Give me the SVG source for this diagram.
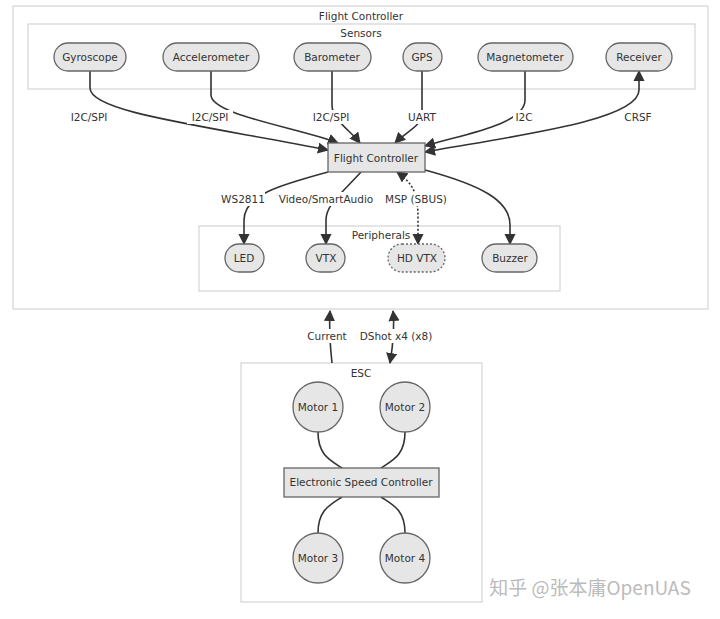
<svg xmlns="http://www.w3.org/2000/svg" width="720" height="619" viewBox="0 0 720 619">
<defs>
<marker id="ah" viewBox="0 0 10 10" refX="9" refY="5" markerWidth="7" markerHeight="7" orient="auto-start-reverse"><path d="M0,0L10,5L0,10z" fill="#333"/></marker>
<style>
text{font-family:"DejaVu Sans","Liberation Sans",sans-serif;font-size:10.5px;fill:#333;text-anchor:middle;dominant-baseline:central}
.cl{fill:#fff;stroke:#ccc;stroke-width:1}
.n{fill:#e6e6e6;stroke:#666;stroke-width:1.3}
.d{stroke-dasharray:2,2}
.e{fill:none;stroke:#333;stroke-width:1.6}
.lb{fill:#fff}
</style>
</defs>
<rect width="720" height="619" fill="#fff"/>
<g id="cluster-fc"><rect class="cl" x="13" y="6" width="695" height="303"/><text x="361" y="16">Flight Controller</text></g>
<g id="cluster-sensors"><rect class="cl" x="28" y="24" width="667" height="65"/><text x="361" y="33">Sensors</text></g>
<g id="cluster-periph"><rect class="cl" x="199" y="226" width="361" height="65"/><text x="381" y="235">Peripherals</text></g>
<g id="cluster-esc"><rect class="cl" x="241" y="363" width="241" height="239"/><text x="361" y="373">ESC</text></g>
<g id="edges">
<path class="e" d="M90,71V88C90,112 200,125 328,150" marker-end="url(#ah)"/>
<path class="e" d="M211,71V95C211,115 300,128 338,143" marker-end="url(#ah)"/>
<path class="e" d="M332,71V105C332,120 350,130 360,143" marker-end="url(#ah)"/>
<path class="e" d="M422,71V115C422,125 405,133 395,143" marker-end="url(#ah)"/>
<path class="e" d="M525,71V100C525,125 460,135 425,146" marker-end="url(#ah)"/>
<path class="e" d="M639,71V90C639,120 520,135 425,152" marker-start="url(#ah)" marker-end="url(#ah)"/>
<path class="e" d="M328,172C280,185 244,195 244,220V244" marker-end="url(#ah)"/>
<path class="e" d="M361,172C340,195 326,205 326,220V244" marker-end="url(#ah)"/>
<path class="e d" d="M397,172C415,185 418,195 418,220V244" marker-start="url(#ah)" marker-end="url(#ah)"/>
<path class="e" d="M425,170C480,185 510,200 510,225V244" marker-end="url(#ah)"/>
<path class="e" d="M332,363C330,345 329,330 330,311" marker-end="url(#ah)"/>
<path class="e" d="M390,363C393,345 395,330 393,311" marker-start="url(#ah)" marker-end="url(#ah)"/>
<path class="e" d="M318,432C318,455 330,460 342,468"/>
<path class="e" d="M405,432C405,455 393,460 381,468"/>
<path class="e" d="M318,533C318,510 330,505 342,497"/>
<path class="e" d="M405,533C405,510 393,505 381,497"/>
<g>
<rect class="lb" x="66" y="110" width="46" height="14"/><text x="89" y="117">I2C/SPI</text>
<rect class="lb" x="187" y="110" width="46" height="14"/><text x="210" y="117">I2C/SPI</text>
<rect class="lb" x="308" y="110" width="46" height="14"/><text x="331" y="117">I2C/SPI</text>
<rect class="lb" x="406" y="110" width="32" height="14"/><text x="422" y="117">UART</text>
<rect class="lb" x="513" y="110" width="22" height="14"/><text x="524" y="117">I2C</text>
<rect class="lb" x="624" y="110" width="30" height="14"/><text x="638" y="117">CRSF</text>
<rect class="lb" x="221" y="192" width="44" height="14"/><text x="243" y="199">WS2811</text>
<rect class="lb" x="274" y="192" width="104" height="14"/><text x="326" y="199">Video/SmartAudio</text>
<rect class="lb" x="386" y="192" width="62" height="14"/><text x="416" y="199">MSP (SBUS)</text>
<rect class="lb" x="304" y="329" width="46" height="14"/><text x="327" y="336">Current</text>
<rect class="lb" x="361" y="329" width="70" height="14"/><text x="396" y="336">DShot x4 (x8)</text>
</g>
</g>
<g id="gyroscope"><rect class="n" x="54" y="43" width="72" height="28" rx="14"/><text x="90" y="57">Gyroscope</text></g>
<g id="accelerometer"><rect class="n" x="163" y="43" width="96" height="28" rx="14"/><text x="211" y="57">Accelerometer</text></g>
<g id="barometer"><rect class="n" x="294" y="43" width="77" height="28" rx="14"/><text x="332" y="57">Barometer</text></g>
<g id="gps"><rect class="n" x="403" y="43" width="39" height="28" rx="14"/><text x="422" y="57">GPS</text></g>
<g id="magnetometer"><rect class="n" x="478" y="43" width="95" height="28" rx="14"/><text x="525" y="57">Magnetometer</text></g>
<g id="receiver"><rect class="n" x="606" y="43" width="66" height="28" rx="14"/><text x="639" y="57">Receiver</text></g>
<g id="flightcontroller"><rect class="n" x="328" y="143" width="97" height="29"/><text x="376" y="158">Flight Controller</text></g>
<g id="led"><rect class="n" x="225" y="244" width="39" height="28" rx="14"/><text x="244" y="258">LED</text></g>
<g id="vtx"><rect class="n" x="306" y="244" width="39" height="28" rx="14"/><text x="326" y="258">VTX</text></g>
<g id="hdvtx"><rect class="n d" x="388" y="244" width="57" height="28" rx="14"/><text x="417" y="258">HD VTX</text></g>
<g id="buzzer"><rect class="n" x="482" y="244" width="55" height="28" rx="14"/><text x="510" y="258">Buzzer</text></g>
<g id="motor1"><circle class="n" cx="318" cy="407" r="25"/><text x="318" y="407">Motor 1</text></g>
<g id="motor2"><circle class="n" cx="405" cy="407" r="25"/><text x="405" y="407">Motor 2</text></g>
<g id="esc"><rect class="n" x="284" y="468" width="155" height="29"/><text x="361" y="482">Electronic Speed Controller</text></g>
<g id="motor3"><circle class="n" cx="318" cy="558" r="25"/><text x="318" y="558">Motor 3</text></g>
<g id="motor4"><circle class="n" cx="405" cy="558" r="25"/><text x="405" y="558">Motor 4</text></g>
<text x="590" y="586" style="font-family:'Noto Sans CJK SC','DejaVu Sans',sans-serif;font-size:19px;fill:#bbb">知乎 @张本庸OpenUAS</text>
</svg>
